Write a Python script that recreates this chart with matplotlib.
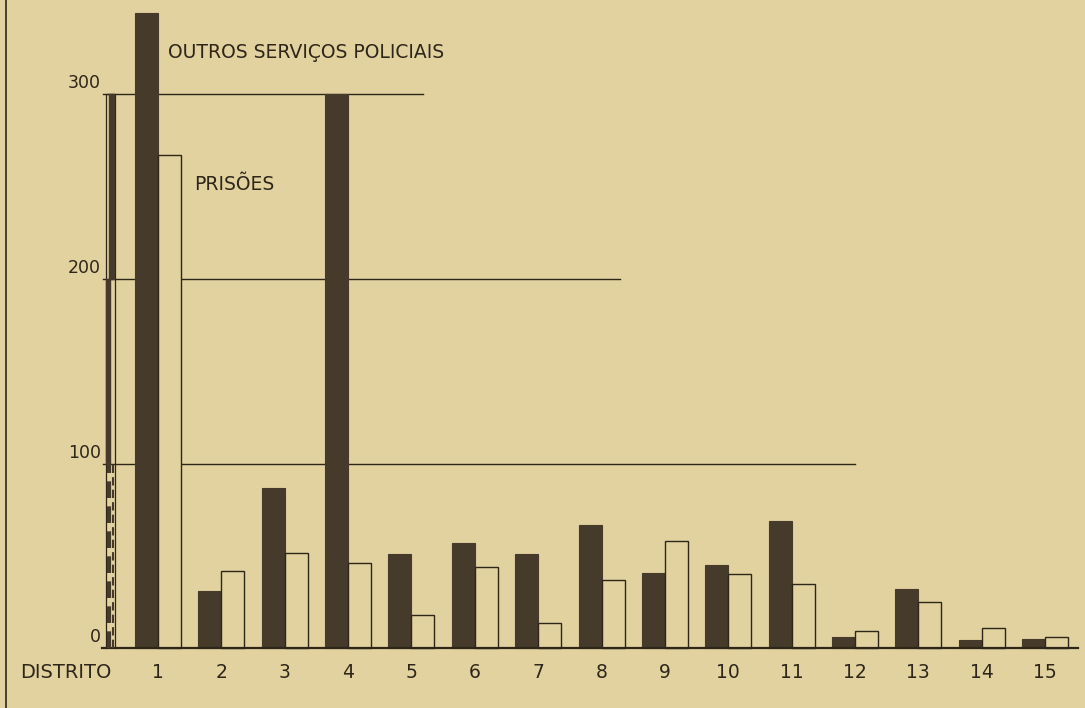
import matplotlib
matplotlib.use("Agg")
import matplotlib.pyplot as plt

# ---- data ----
districts = [str(i) for i in range(1, 16)]
outros_servicos = [344, 31, 87, 300, 51, 57, 51, 67, 41, 45, 69, 6, 32, 4.5, 5]
prisoes = [267, 42, 51.5, 46, 18, 44, 13.5, 37, 58, 40, 35, 9.5, 25, 11, 6]
y_ticks = [0, 100, 200, 300]
grid_levels = [100, 200, 300]

# ---- style ----
BG = "#e2d2a0"
DARK = "#463a2a"
INK = "#2e2619"

W, H = 1085, 708
fig = plt.figure(figsize=(W / 100, H / 100), dpi=100)
fig.patch.set_facecolor(BG)
ax = fig.add_axes([0, 0, 1, 1])
ax.set_facecolor(BG)

# pixel -> data helpers for layout (group spacing ~63.4 px, first group at x=158 px)
X0, DX = 158.0, 63.36
Y0, DY = 648.3, 1.847


def px_x(p):
    return 1 + (p - X0) / DX


ax.set_xlim(px_x(0), px_x(W))
ax.set_ylim((Y0 - H) / DY, Y0 / DY)
ax.axis("off")

x = list(range(1, len(districts) + 1))
bw = 23 / DX

ax.bar([xi - bw / 2 for xi in x], outros_servicos, width=bw, color=DARK,
       edgecolor=DARK, linewidth=0.8, zorder=3)
ax.bar([xi + bw / 2 for xi in x], prisoes, width=bw, color=BG,
       edgecolor=INK, linewidth=1.0, zorder=3)

# partial horizontal guide lines
grid_end_px = {100: 855, 200: 620, 300: 423}
for lv in grid_levels:
    ax.plot([px_x(103), px_x(grid_end_px[lv])], [lv, lv], color=INK, lw=1.0, zorder=2)

# baseline
ax.plot([px_x(102), px_x(1078)], [0, 0], color=INK, lw=1.6, zorder=4)

# y labels
for v in y_ticks:
    ax.text(px_x(101), v + 1, str(v), ha="right", va="bottom", fontsize=12.5,
            color=INK, zorder=5)

# scale column on the y axis
xl, xr = px_x(106), px_x(115)
ax.plot([xl, xl, xr, xr], [0, 300, 300, 0], color=INK, lw=0.9, zorder=4)
ax.fill_between([px_x(109), px_x(114)], 200, 300, color=DARK, zorder=4)
ax.fill_between([px_x(106), px_x(110)], 100, 200, color=DARK, zorder=4)
ax.plot([px_x(108.5), px_x(108.5)], [0, 100], color=DARK, lw=3,
        dashes=(4, 2), zorder=4)
ax.plot([px_x(113), px_x(113)], [0, 100], color=DARK, lw=1.5,
        dashes=(4, 2), zorder=4)

# x labels
ax.text(px_x(20), -13, "DISTRITO", ha="left", va="center", fontsize=14, color=INK)
for xi, lab in zip(x, districts):
    ax.text(xi, -13, lab, ha="center", va="center", fontsize=13.5, color=INK)

# series labels
ax.text(px_x(168), (Y0 - 52) / DY, "OUTROS SERVIÇOS POLICIAIS", ha="left",
        va="center", fontsize=13.5, color=INK, zorder=5)
ax.text(px_x(194), (Y0 - 184) / DY, "PRISÕES", ha="left", va="center",
        fontsize=13.5, color=INK, zorder=5)

# page border line on the left
fig.add_artist(plt.Line2D([6 / W, 6 / W], [0, 1], color=INK, lw=1.2))

fig.savefig("out.png", dpi=100, facecolor=BG)
